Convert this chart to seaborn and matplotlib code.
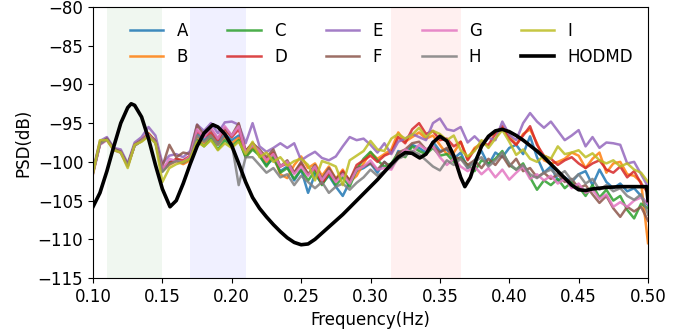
import numpy as np
import pandas as pd
import matplotlib
matplotlib.use("Agg")
import matplotlib.pyplot as plt
import seaborn as sns

# ---- data ----
freq = [round(0.100 + 0.005 * k, 3) for k in range(81)]

A = [-101.3, -97.6, -97.0, -98.3, -98.7, -100.4, -97.8, -97.2, -96.5, -97.4, -101.0, -100.0, -99.8, -100.2,
     -99.6, -96.4, -97.2, -96.5, -97.6, -96.4, -97.2, -96.6, -99.2,
     -98.0, -99.2, -100.4, -99.6, -101.2, -100.6, -102.4, -101.0, -104.0, -101.6, -102.8, -101.8, -103.2, -104.4,
     -102.6, -101.2, -100.8, -100.2, -101.4, -100.0, -100.8,
     -98.6, -99.0, -97.8, -98.2, -98.8, -97.4, -98.6, -98.4, -99.6, -98.8,
     -100.8, -99.8, -98.6, -100.4, -98.8, -99.4, -98.2, -97.8, -99.0, -96.7, -99.4, -101.4, -100.6, -102.4,
     -102.0, -102.6, -101.6, -101.2, -103.0, -101.0, -102.6, -103.4, -102.8, -103.8, -103.4, -104.4, -105.6]
B = [-101.2, -97.5, -97.1, -98.4, -98.6, -100.4, -97.7, -97.1, -96.3, -97.3, -101.2, -100.4, -99.9, -100.3,
     -99.8, -96.8, -97.6, -96.6, -97.8, -96.8, -97.6, -96.9, -99.4,
     -98.2, -99.0, -100.0, -99.2, -101.6, -102.1, -100.4, -99.3, -100.8, -100.2, -101.8, -100.6, -102.2, -101.0,
     -102.6, -101.8, -100.2, -98.8, -99.6, -99.0, -98.4,
     -96.2, -97.4, -96.8, -96.2, -97.0, -96.6, -97.8, -99.0, -98.8, -97.4,
     -99.6, -98.2, -97.6, -96.8, -96.2, -95.6, -96.6, -97.8, -96.4, -95.8, -97.6, -99.8, -100.2, -100.0,
     -99.6, -98.8, -99.2, -100.8, -99.6, -98.8, -101.4, -100.2, -100.0, -101.6, -101.8, -102.6, -110.5]
C = [-101.4, -97.7, -97.1, -98.4, -98.7, -100.5, -97.9, -97.3, -96.6, -97.5, -101.2, -100.1, -99.7, -100.0,
     -99.6, -97.2, -98.0, -97.0, -98.4, -97.2, -98.0, -97.2, -99.4,
     -98.4, -99.2, -100.6, -99.2, -101.4, -100.8, -102.2, -101.0, -102.4, -101.2, -103.0, -101.6, -103.0, -102.0,
     -103.2, -101.0, -99.6, -98.7, -99.8, -100.6, -100.2,
     -98.8, -99.4, -98.0, -98.6, -99.0, -98.2, -99.2, -99.0, -100.0, -99.4,
     -100.4, -101.2, -99.8, -100.2, -99.6, -98.6, -100.4, -101.0, -100.2, -102.0, -103.6, -102.4, -103.0, -102.2,
     -103.4, -102.6, -103.2, -104.4, -103.0, -104.6, -103.6, -105.0, -104.4, -106.2, -107.3, -105.4, -106.0]
D = [-101.4, -97.7, -97.0, -98.4, -98.8, -100.5, -97.8, -97.3, -96.4, -97.5, -100.9, -100.2, -99.6, -99.8,
     -99.2, -96.0, -96.8, -96.2, -97.2, -95.8, -96.8, -95.8, -98.6,
     -97.6, -98.6, -99.6, -98.8, -100.6, -100.2, -101.4, -100.2, -101.6, -100.8, -102.8, -101.4, -102.4, -101.2,
     -102.4, -100.4, -99.8, -99.2, -100.0, -99.2, -98.8,
     -96.8, -97.6, -95.8, -95.0, -96.4, -96.0, -97.2, -97.0, -98.0, -97.4,
     -99.8, -98.4, -97.6, -97.8, -96.4, -95.4, -97.0, -97.8, -96.6, -95.4, -97.8, -99.2, -99.6, -100.4,
     -99.8, -99.4, -100.2, -100.8, -100.2, -99.8, -101.0, -101.4, -100.6, -102.0, -101.2, -102.8, -104.0]
E = [-101.0, -97.3, -96.8, -98.2, -98.4, -100.2, -97.5, -96.8, -95.5, -96.6, -100.2, -99.2, -99.0, -99.4,
     -98.6, -95.2, -96.0, -95.0, -96.3, -94.9, -94.8, -95.2, -97.6,
     -95.0, -98.0, -98.7, -98.2, -97.6, -98.2, -97.6, -99.8, -99.2, -98.7, -99.5, -99.8, -99.3, -98.0,
     -96.8, -97.2, -97.0, -97.8, -98.8, -97.6, -99.0,
     -97.4, -97.0, -96.4, -96.8, -97.2, -95.0, -94.4, -95.8, -96.0, -95.5,
     -97.5, -96.7, -97.6, -96.9, -97.2, -94.8, -96.5, -97.2, -95.0, -93.7, -94.8, -95.6, -94.8, -96.0,
     -97.2, -96.6, -95.9, -98.0, -96.8, -98.2, -97.5, -97.6, -97.8, -100.2, -100.0, -101.6, -103.2]
F = [-101.3, -97.6, -97.0, -98.3, -98.7, -100.4, -97.8, -97.2, -96.4, -97.3, -100.6, -97.8, -99.4, -98.8,
     -99.0, -95.2, -96.6, -95.8, -97.0, -95.6, -96.6, -95.0, -98.6,
     -97.6, -98.4, -99.4, -98.4, -100.6, -99.8, -101.4, -100.0, -101.6, -100.4, -102.2, -100.8, -102.2, -101.4,
     -102.4, -100.8, -100.6, -100.2, -101.0, -100.0, -100.8,
     -98.8, -98.4, -97.6, -97.4, -98.4, -98.0, -98.8, -98.2, -99.4, -99.6,
     -100.4, -99.8, -100.8, -99.6, -100.4, -99.2, -100.6, -99.6, -101.2, -100.8, -102.0, -101.4, -102.2, -101.6,
     -102.6, -102.2, -103.4, -103.0, -104.2, -105.3, -104.4, -106.0, -107.1, -105.8, -106.4, -105.8, -107.6]
G = [-101.6, -97.8, -97.2, -98.5, -98.8, -100.6, -97.9, -97.3, -96.5, -97.5, -101.0, -99.6, -99.9, -100.0,
     -99.3, -95.8, -96.8, -95.6, -97.0, -95.4, -96.6, -95.4, -98.8,
     -97.8, -98.6, -99.8, -99.0, -100.6, -100.0, -101.6, -100.6, -101.8, -100.6, -102.4, -101.2, -102.6, -101.6,
     -102.8, -101.0, -100.6, -99.8, -101.0, -100.8, -101.0,
     -99.4, -98.4, -98.8, -97.8, -98.4, -98.0, -99.4, -100.4, -99.6, -100.6,
     -101.2, -100.6, -101.6, -100.8, -102.0, -101.0, -102.3, -101.4, -100.6, -102.2, -101.6, -102.4, -101.8, -102.8,
     -102.2, -103.4, -102.8, -104.0, -103.6, -104.8, -104.2, -105.8, -105.2, -105.8, -105.0, -104.6, -105.4]
H = [-101.4, -97.7, -97.1, -98.4, -98.8, -100.5, -97.9, -97.3, -96.6, -97.5, -101.3, -100.3, -99.9, -100.1,
     -99.5, -96.6, -97.4, -96.6, -97.8, -96.6, -97.6, -103.0, -99.4,
     -99.4, -100.4, -101.4, -100.8, -102.0, -101.6, -103.0, -101.8, -102.6, -103.4, -102.6, -104.0, -103.2, -102.8,
     -103.6, -102.7, -102.0, -101.0, -101.8, -101.2, -100.6,
     -99.6, -99.2, -98.6, -99.0, -99.8, -100.6, -101.1, -99.8, -100.4, -99.6,
     -100.8, -100.0, -99.4, -100.6, -99.8, -98.8, -100.2, -101.0, -100.4, -101.6, -102.1, -101.4, -101.0, -101.8,
     -101.2, -102.4, -101.6, -102.8, -102.2, -103.6, -103.0, -103.8, -103.4, -104.4, -104.9, -104.2, -106.8]
I = [-101.5, -97.2, -97.2, -98.5, -98.8, -100.8, -97.8, -97.4, -96.7, -97.6, -102.6, -100.8, -100.3, -100.0,
     -99.6, -97.4, -98.0, -97.2, -98.5, -97.6, -98.2, -97.4, -99.0,
     -97.4, -99.4, -98.8, -100.0, -99.4, -100.5, -99.9, -99.6, -100.4, -102.4, -99.9, -100.2, -100.6, -103.0,
     -99.8, -99.2, -98.6, -97.3, -98.4, -98.6, -97.0,
     -96.4, -97.0, -96.5, -95.6, -96.8, -96.0, -96.4, -97.2, -96.6, -98.5,
     -99.3, -98.6, -97.2, -98.2, -97.0, -95.9, -97.4, -99.1, -98.4, -99.6, -100.0, -99.2, -99.6, -98.0,
     -99.0, -98.8, -98.5, -99.4, -98.9, -99.8, -100.2, -99.8, -100.6, -100.2, -101.0, -101.4, -102.6]

series_names = ["A", "B", "C", "D", "E", "F", "G", "H", "I"]
series_values = [A, B, C, D, E, F, G, H, I]

hodmd_freq = [0.100, 0.105, 0.110, 0.115, 0.120, 0.125, 0.1275, 0.130, 0.135, 0.140, 0.145, 0.150, 0.1555,
              0.160, 0.165, 0.170, 0.175, 0.180, 0.1863, 0.190, 0.195, 0.200, 0.205, 0.210, 0.215, 0.220,
              0.225, 0.230, 0.235, 0.240, 0.245, 0.250, 0.255, 0.260, 0.265, 0.270, 0.275, 0.280, 0.285,
              0.290, 0.295, 0.300, 0.305, 0.310, 0.315, 0.320, 0.325, 0.330, 0.3355, 0.340, 0.345, 0.350,
              0.355, 0.360, 0.365, 0.368, 0.372, 0.376, 0.380, 0.385, 0.390, 0.395, 0.400, 0.405, 0.410,
              0.415, 0.420, 0.425, 0.430, 0.435, 0.440, 0.445, 0.450, 0.455, 0.460, 0.470, 0.480, 0.490,
              0.499, 0.500]
hodmd_psd = [-105.8, -104.0, -101.2, -98.0, -95.0, -93.0, -92.5, -92.7, -94.2, -97.0, -100.4, -103.5, -105.8,
             -105.0, -102.8, -100.3, -98.0, -96.3, -95.2, -95.5, -96.4, -97.9, -100.2, -102.6, -104.6, -106.0,
             -107.1, -108.1, -109.0, -109.8, -110.4, -110.7, -110.6, -110.0, -109.2, -108.4, -107.6, -106.8, -105.9,
             -105.0, -104.1, -103.2, -102.3, -101.3, -100.3, -99.4, -98.8, -98.9, -99.5, -99.0, -97.5, -96.7,
             -97.3, -99.2, -102.0, -103.2, -102.0, -99.8, -98.0, -96.7, -96.0, -95.8, -96.1, -96.6, -97.2,
             -97.9, -98.6, -99.4, -100.3, -101.2, -102.1, -103.0, -103.6, -103.7, -103.5, -103.3, -103.2, -103.2,
             -103.2, -105.0]

bands = [(0.11, 0.15, "g"), (0.17, 0.21, "b"), (0.315, 0.365, "r")]
x_ticks = [0.10, 0.15, 0.20, 0.25, 0.30, 0.35, 0.40, 0.45, 0.50]
y_ticks = [-115, -110, -105, -100, -95, -90, -85, -80]

# ---- build long table ----
rows = []
for name, vals in zip(series_names, series_values):
    for f, v in zip(freq, vals):
        rows.append({"freq": f, "psd": v, "series": name})
df = pd.DataFrame(rows)
df_h = pd.DataFrame({"freq": hodmd_freq, "psd": hodmd_psd})

plt.rcParams["font.family"] = ["DejaVu Sans"]
fig, ax = plt.subplots(figsize=(6.89, 3.31), dpi=100)
fig.subplots_adjust(left=0.135, right=0.9405, top=0.979, bottom=0.160)

for lo, hi, col in bands:
    ax.axvspan(lo, hi, color=col, alpha=0.06, lw=0)

palette = sns.color_palette("tab10", 9)
sns.lineplot(data=df, x="freq", y="psd", hue="series", hue_order=series_names,
             palette=palette, estimator=None, lw=1.8, alpha=0.85, ax=ax)
sns.lineplot(data=df_h, x="freq", y="psd", color="black", lw=2.6, label="HODMD",
             estimator=None, ax=ax)

handles, labels = ax.get_legend_handles_labels()
ax.legend(handles, labels, ncol=5, frameon=False, loc="upper center",
          bbox_to_anchor=(0.52, 1.0), fontsize=12, columnspacing=2.35)

ax.set_xlim(0.10, 0.50)
ax.set_ylim(-115, -80)
ax.set_xticks(x_ticks)
ax.set_xticklabels([f"{t:.2f}" for t in x_ticks])
ax.set_yticks(y_ticks)
ax.tick_params(labelsize=12)
ax.set_xlabel("Frequency(Hz)", fontsize=12)
ax.set_ylabel("PSD(dB)", fontsize=12)

fig.savefig("out.png", dpi=100)
